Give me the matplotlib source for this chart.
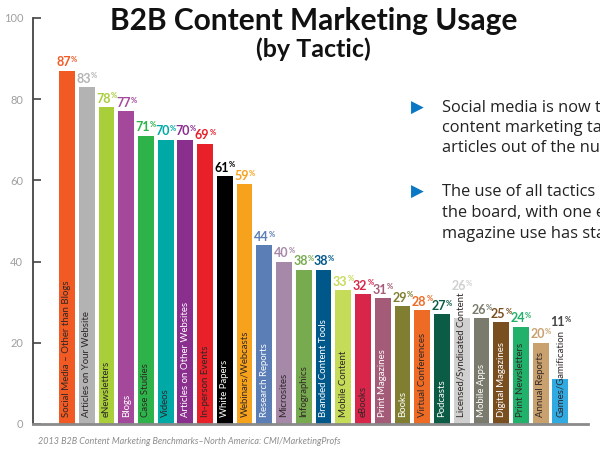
import matplotlib
matplotlib.use('Agg')
import matplotlib.pyplot as plt

# Chart data
tactics = ['Social Media – Other than Blogs', 'Articles on Your Website', 'eNewsletters', 'Blogs',
           'Case Studies', 'Videos', 'Articles on Other Websites', 'In-person Events',
           'White Papers', 'Webinars/Webcasts', 'Research Reports', 'Microsites',
           'Infographics', 'Branded Content Tools', 'Mobile Content', 'eBooks',
           'Print Magazines', 'Books', 'Virtual Conferences', 'Podcasts',
           'Licensed/Syndicated Content', 'Mobile Apps', 'Digital Magazines',
           'Print Newsletters', 'Annual Reports', 'Games/Gamification']
usage = [87, 83, 78, 77, 71, 70, 70, 69, 61, 59, 44, 40, 38, 38, 33, 32, 31, 29, 28, 27,
         26, 26, 25, 24, 20, 11]
bar_colors = ['#F15A22', '#B3B3B3', '#A8CE3A', '#A4489B', '#2DB34A', '#00A9A5', '#8A2F8D',
              '#E82129', '#000000', '#F7A21C', '#5B7EB6', '#A688A9', '#78AA50', '#00578A',
              '#C4DC57', '#D8264B', '#A35B77', '#7F7E31', '#EE6B25', '#0B5B45', '#D0D0D0',
              '#7A7B6C', '#7A4F20', '#22B16B', '#C9A16F', '#31A9E1']
white_text = ['Blogs', 'Articles on Other Websites', 'White Papers', 'Research Reports',
              'Branded Content Tools', 'Print Magazines', 'Books', 'Podcasts',
              'Mobile Apps', 'Digital Magazines']
yticks = [0, 20, 40, 60, 80, 100]

SANS = ['Lato', 'DejaVu Sans']

fig = plt.figure(figsize=(6, 4.54), dpi=100)
ax = fig.add_axes([0.055, 0.0661, 0.925, 0.8943])

x = range(len(tactics))
ax.bar(x, usage, width=0.8, color=bar_colors)

ax.set_xlim(-1.72, 26.4)
ax.set_ylim(0, 100)
ax.set_yticks(yticks)
ax.set_xticks([])
ax.tick_params(axis='y', direction='in', length=6, width=1.2, color='#444444',
               labelcolor='#A0A0A0', labelsize=8, pad=7)
for lab in ax.get_yticklabels():
    lab.set_family(SANS)
for s in ['top', 'right']:
    ax.spines[s].set_visible(False)
ax.spines['left'].set_color('#444444')
ax.spines['left'].set_linewidth(1.3)
ax.spines['bottom'].set_color('#8A8A8A')
ax.spines['bottom'].set_linewidth(2)

# labels where the tactic name runs past the bar top
label_override = {'Licensed/Syndicated Content': (32.4, '#D0D0D0'),
                  'Games/Gamification': (23.6, '#444444')}

for i, (name, v, c) in enumerate(zip(tactics, usage, bar_colors)):
    ax.text(i, 1.6, name, rotation=90, ha='center', va='bottom', fontsize=6.9,
            family=SANS, color='white' if name in white_text else '#2E2626')
    ly, lc = label_override.get(name, (v + 0.6, c))
    t = ax.text(i - 0.15, ly, str(v), ha='center', va='bottom', fontsize=9,
                fontweight='bold', family=SANS, color=lc)
    ax.annotate('%', xy=(1.0, 0.45), xycoords=t, ha='left', va='bottom',
                fontsize=5.5, fontweight='bold', family=SANS, color=lc)

# title
fig.text(0.523, 0.935, 'B2B Content Marketing Usage', ha='center', va='baseline',
         fontsize=21.5, fontweight='bold', family=SANS, color='#111111')
fig.text(0.523, 0.874, '(by Tactic)', ha='center', va='baseline',
         fontsize=18, fontweight='bold', family=SANS, color='#111111')

# bullet notes (run off the right edge as in the original)
bullets = [['Social media is now the top', 'content marketing tactic, edging',
            'articles out of the number one spot.'],
           ['The use of all tactics has increased across', 'the board, with one exception: print',
            'magazine use has stayed the same.']]
line_y = [[108, 128, 148], [192, 213, 234]]
for lines, ys in zip(bullets, line_y):
    fig.text(411 / 600, 1 - ys[0] / 454, '▶', ha='left', va='center', fontsize=12,
             color='#0A78C2', family='DejaVu Sans')
    for line, yy in zip(lines, ys):
        fig.text(442 / 600, 1 - yy / 454, line, ha='left', va='center', fontsize=11.8,
                 family=['Open Sans', 'DejaVu Sans'], color='#222222')

fig.text(38 / 600, 1 - 441 / 454,
         '2013 B2B Content Marketing Benchmarks–North America: CMI/MarketingProfs',
         ha='left', va='center', fontsize=6.5, style='italic', family=SANS, color='#8C8C8C')

fig.savefig('out.png', dpi=100)
